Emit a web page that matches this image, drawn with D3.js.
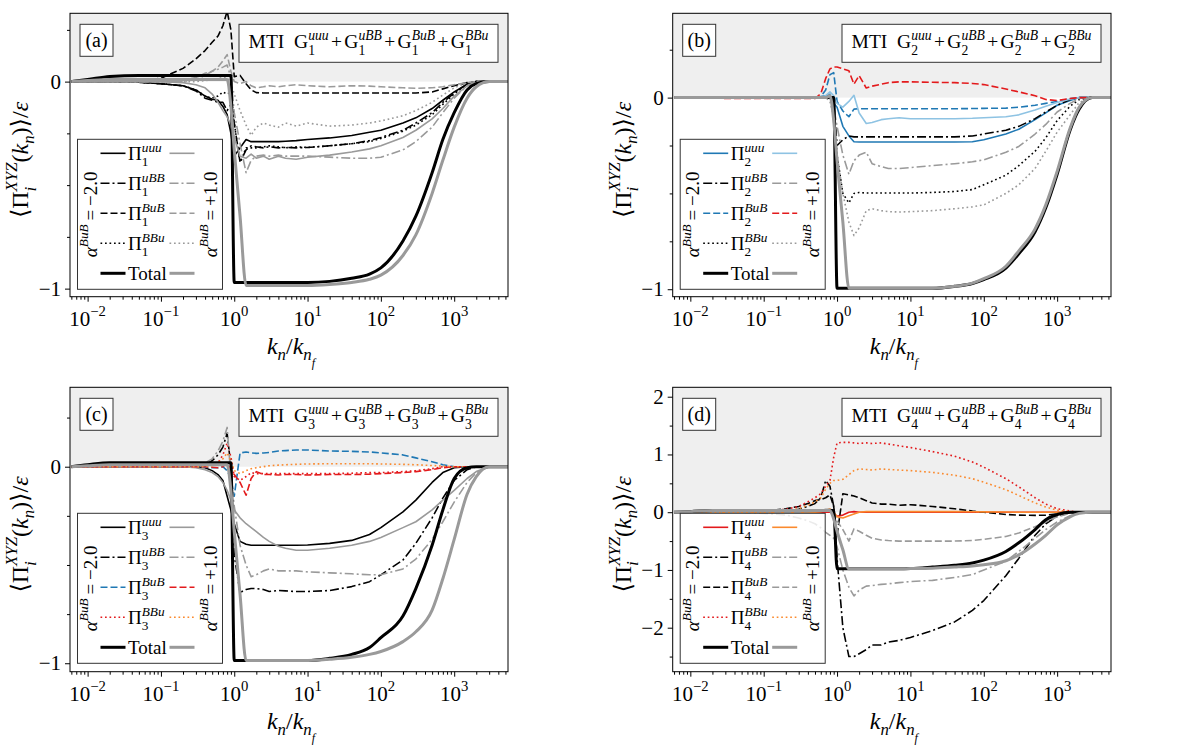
<!DOCTYPE html>
<html><head><meta charset="utf-8">
<script src="https://cdn.jsdelivr.net/npm/d3@7/dist/d3.min.js"></script>
<style>body{margin:0;background:#fff}</style>
</head><body>
<svg id="c" width="1199" height="746" xmlns="http://www.w3.org/2000/svg" font-family="'Liberation Serif', 'DejaVu Serif', serif"></svg>
<script>
// shell wavenumbers k_n / k_nf
const kn = [0.006,0.01,0.02,0.05,0.1, 0.2,0.3,0.4,0.5,0.6, 0.7,0.8,0.9,1.0,1.2, 1.45,1.7,2,2.5,3, 4,5,7,10,20, 40,70,100,200,300, 500,700,1000,1500,2000, 3000,5500];

// ---- panel (a) ----
const a_uuu_m = [0,0,0,-0.003,-0.01, -0.02,-0.04,-0.07,-0.085,-0.09, -0.12,-0.16,-0.25,-0.36,-0.32, -0.28,-0.29,-0.29,-0.29,-0.29, -0.29,-0.288,-0.285,-0.28,-0.272, -0.26,-0.245,-0.235,-0.2,-0.175, -0.13,-0.09,-0.05,-0.012,0, 0,0];
const a_uBB_m = [0,0,0,-0.003,-0.01, -0.02,-0.045,-0.08,-0.09,-0.1, -0.1,-0.14,-0.11,-0.2,-0.39, -0.33,-0.31,-0.315,-0.32,-0.315, -0.32,-0.318,-0.32,-0.318,-0.31, -0.3,-0.285,-0.27,-0.235,-0.2, -0.15,-0.1,-0.055,-0.012,0, 0,0];
const a_BuB_m = [0,0,0,0.003,0.016, 0.064,0.11,0.15,0.19,0.22, 0.27,0.34,0.25,0.024,0.03, -0.01,-0.04,-0.053,-0.055,-0.055, -0.055,-0.055,-0.055,-0.055,-0.055, -0.055,-0.055,-0.055,-0.055,-0.055, -0.05,-0.035,-0.02,-0.005,0, 0,0];
const a_BBu_m = [0,0,0,-0.003,-0.01, -0.02,-0.04,-0.07,-0.08,-0.07, -0.05,-0.06,-0.05,-0.2,-0.39, -0.32,-0.32,-0.32,-0.315,-0.31, -0.315,-0.32,-0.315,-0.318,-0.31, -0.3,-0.29,-0.275,-0.24,-0.21, -0.16,-0.11,-0.06,-0.012,0, 0,0];
const a_tot_m = [0,0.01,0.025,0.03,0.03, 0.03,0.03,0.03,0.03,0.03, 0.03,0.03,0.03,-0.97,-0.97, -0.97,-0.97,-0.97,-0.97,-0.97, -0.97,-0.97,-0.97,-0.97,-0.965, -0.95,-0.93,-0.9,-0.77,-0.65, -0.44,-0.28,-0.15,-0.04,-0.01, 0,0];
const a_uuu_p = [0,0,0,0,0, -0.005,-0.015,-0.03,-0.06,-0.1, -0.14,-0.17,-0.21,-0.27,-0.36, -0.37,-0.35,-0.37,-0.36,-0.375, -0.36,-0.37,-0.375,-0.365,-0.355, -0.34,-0.325,-0.31,-0.27,-0.235, -0.18,-0.13,-0.07,-0.02,-0.005, 0,0];
const a_uBB_p = [0,0,0,0,0, 0,0.01,0.03,0.05,0.06, 0.07,0.08,0.02,-0.15,-0.3, -0.44,-0.38,-0.36,-0.355,-0.36, -0.355,-0.36,-0.36,-0.36,-0.365, -0.37,-0.37,-0.365,-0.33,-0.29, -0.22,-0.15,-0.08,-0.02,0, 0,0];
const a_BuB_p = [0,0,0,0,0, 0.005,0.02,0.04,0.05,0.07, 0.1,0.13,0.05,0,-0.01, 0,-0.02,-0.03,-0.025,-0.02, -0.025,-0.02,-0.015,-0.02,-0.025, -0.02,-0.022,-0.025,-0.03,-0.032, -0.03,-0.025,-0.015,-0.005,0, 0,0];
const a_BBu_p = [0,0,0,0,0, 0,0,0.005,0.01,0.015, 0.02,0.02,-0.01,-0.06,-0.14, -0.21,-0.26,-0.22,-0.2,-0.21, -0.22,-0.2,-0.215,-0.2,-0.215, -0.21,-0.2,-0.19,-0.165,-0.14, -0.1,-0.065,-0.03,-0.005,0, 0,0];
const a_tot_p = [0,0.005,0.01,0.01,0.01, 0.01,0.01,0.01,0.01,0.01, 0.01,0.01,-0.12,-0.33,-0.65, -0.985,-0.985,-0.985,-0.985,-0.985, -0.985,-0.985,-0.985,-0.985,-0.98, -0.97,-0.955,-0.935,-0.84,-0.74, -0.54,-0.38,-0.22,-0.08,-0.025, 0,0];

// ---- panel (b) ----
const b_uuu_m = [0,0,0,0,0, 0,0,0,0,0.005, 0.01,0.015,-0.03,-0.05,-0.15, -0.2,-0.23,-0.232,-0.232,-0.232, -0.232,-0.232,-0.232,-0.232,-0.232, -0.232,-0.23,-0.22,-0.19,-0.165, -0.115,-0.08,-0.04,-0.015,0, 0,0];
const b_uBB_m = [0,0,0,0,0, 0,0,0,0,0, 0,0,-0.02,-0.25,-0.22, -0.2,-0.205,-0.205,-0.205,-0.205, -0.205,-0.205,-0.205,-0.205,-0.205, -0.205,-0.2,-0.19,-0.17,-0.15, -0.11,-0.075,-0.04,-0.01,0, 0,0];
const b_BuB_m = [0,0,0,0,0, 0,0,0,0,0.005, 0.04,0.12,0.13,-0.02,-0.07, -0.1,-0.06,-0.058,-0.058,-0.058, -0.058,-0.058,-0.058,-0.058,-0.058, -0.058,-0.057,-0.056,-0.055,-0.05, -0.04,-0.03,-0.02,-0.005,0, 0,0];
const b_BBu_m = [0,0,0,0,0, 0,0,0,0,0, 0,0,-0.05,-0.3,-0.5, -0.55,-0.5,-0.495,-0.498,-0.498, -0.498,-0.498,-0.498,-0.498,-0.495, -0.49,-0.48,-0.455,-0.405,-0.355, -0.28,-0.21,-0.12,-0.045,-0.01, 0,0];
const b_tot_m = [0,0,0,0,0, 0,0,0,0,0, 0,0,0,-0.995,-0.995, -0.995,-0.995,-0.995,-0.995,-0.995, -0.995,-0.995,-0.995,-0.995,-0.995, -0.985,-0.97,-0.95,-0.89,-0.815, -0.7,-0.575,-0.4,-0.17,-0.06, 0,0];
const b_uuu_p = [0,0,0,0,0, 0,0,0,0,0, 0.01,0.03,0.01,-0.03,-0.05, -0.02,0.012,-0.08,-0.135,-0.13, -0.115,-0.11,-0.105,-0.11,-0.11, -0.11,-0.108,-0.105,-0.1,-0.09, -0.065,-0.045,-0.025,-0.008,0, 0,0];
const b_uBB_p = [0,0,0,0,0, 0,0,0,0,0, 0,0,-0.05,-0.15,-0.3, -0.4,-0.33,-0.3,-0.285,-0.345, -0.36,-0.37,-0.37,-0.365,-0.355, -0.345,-0.335,-0.325,-0.285,-0.255, -0.19,-0.14,-0.075,-0.03,-0.005, 0,0];
const b_BuB_p = [0,0,-0.003,-0.005,-0.005, -0.005,-0.005,-0.005,-0.005,0.02, 0.1,0.15,0.16,0.16,0.15, 0.14,0.07,0.115,0.05,0.06, 0.07,0.078,0.082,0.082,0.08, 0.078,0.074,0.068,0.045,0.03, 0.01,-0.01,-0.015,-0.005,0, 0,0];
const b_BBu_p = [0,0,0,0,0, 0,0,0,0,0, 0,-0.02,-0.1,-0.3,-0.5, -0.65,-0.72,-0.68,-0.59,-0.58, -0.59,-0.595,-0.597,-0.595,-0.59, -0.58,-0.57,-0.56,-0.5,-0.455, -0.37,-0.28,-0.18,-0.09,-0.025, 0,0];
const b_tot_p = [0,0,0,0,0, 0,0,0,0,0, 0,0.01,-0.12,-0.33,-0.65, -0.995,-0.995,-0.995,-0.995,-0.995, -0.995,-0.995,-0.995,-0.995,-0.995, -0.985,-0.968,-0.945,-0.88,-0.8, -0.685,-0.56,-0.385,-0.16,-0.05, 0,0];

// ---- panel (c) ----
const c_uuu_m = [0,0,0,0,0, 0,0,-0.005,-0.02,-0.04, -0.07,-0.15,-0.22,-0.29,-0.38, -0.395,-0.4,-0.4,-0.4,-0.4, -0.4,-0.4,-0.4,-0.398,-0.39, -0.375,-0.345,-0.31,-0.23,-0.17, -0.08,-0.03,-0.005,0,0, 0,0];
const c_uBB_m = [0,0,0,0,0, 0,0.005,0.01,0.03,0.06, 0.1,0.17,0,-0.45,-0.64, -0.625,-0.62,-0.62,-0.625,-0.635, -0.63,-0.632,-0.635,-0.635,-0.63, -0.61,-0.585,-0.55,-0.475,-0.39, -0.26,-0.16,-0.07,-0.015,0, 0,0];
const c_BuB_m = [0,0,0,0,0, 0,0,-0.003,-0.005,-0.005, 0,-0.02,-0.06,-0.15,0.07, 0.075,0.07,0.068,0.07,0.072, 0.08,0.082,0.085,0.085,0.08, 0.078,0.075,0.07,0.06,0.045, 0.025,0.01,0,-0.003,0, 0,0];
const c_BBu_m = [0,0,0,0,0, 0,0,0.005,0.01,0.02, 0.06,0.12,0.05,-0.05,-0.07, -0.05,-0.03,-0.035,-0.035,-0.035, -0.035,-0.035,-0.035,-0.035,-0.035, -0.033,-0.03,-0.03,-0.025,-0.02, -0.01,0,0,0,0, 0,0];
const c_tot_m = [0,0.01,0.02,0.02,0.02, 0.02,0.02,0.02,0.02,0.02, 0.02,0.02,0.02,-0.986,-0.986, -0.986,-0.986,-0.986,-0.986,-0.986, -0.986,-0.986,-0.986,-0.986,-0.975, -0.955,-0.92,-0.87,-0.76,-0.62, -0.4,-0.22,-0.06,-0.005,0, 0,0];
const c_uuu_p = [0,0,0,0,0, 0,-0.005,-0.015,-0.03,-0.05, -0.08,-0.12,-0.17,-0.22,-0.26, -0.29,-0.31,-0.33,-0.36,-0.38, -0.405,-0.415,-0.425,-0.425,-0.415, -0.4,-0.38,-0.36,-0.31,-0.28, -0.22,-0.17,-0.12,-0.06,-0.025, 0,0];
const c_uBB_p = [0,0,0,0,0, 0,0.01,0.02,0.04,0.08, 0.13,0.2,-0.05,-0.2,-0.4, -0.5,-0.56,-0.55,-0.53,-0.52, -0.53,-0.53,-0.53,-0.535,-0.54, -0.545,-0.55,-0.55,-0.52,-0.47, -0.37,-0.28,-0.18,-0.08,-0.03, 0,0];
const c_BuB_p = [0,0,0,0,0, 0,0,0,-0.003,-0.005, 0,0.02,-0.02,-0.04,-0.08, -0.145,-0.06,-0.025,-0.04,-0.04, -0.042,-0.04,-0.04,-0.042,-0.04, -0.04,-0.038,-0.035,-0.03,-0.025, -0.015,-0.005,0,0,0, 0,0];
const c_BBu_p = [0,0,0,0,0, 0,0,0,0.005,0.02, 0.04,0.07,0.03,-0.02,-0.035, -0.02,-0.01,-0.005,0,0.005, 0.008,0.01,0.012,0.014,0.015, 0.015,0.015,0.014,0.012,0.01, 0.006,0.003,0,0,0, 0,0];
const c_tot_p = [0,0.005,0.01,0.01,0.01, 0.01,0.01,0.01,0.01,0.01, 0.01,0.01,-0.12,-0.33,-0.65, -0.986,-0.986,-0.986,-0.986,-0.986, -0.986,-0.986,-0.986,-0.986,-0.98, -0.97,-0.955,-0.94,-0.89,-0.84, -0.73,-0.57,-0.37,-0.14,-0.05, 0,0];

// ---- panel (d) ----
const d_uuu_m = [0,0,0,0,0, 0,0,0,0,0, 0,0,-0.02,-0.07,-0.05, 0,0.01,0,0,0, 0,0,0,0,0, 0,0,0,0,0, 0,0,0,0,0, 0,0];
const d_uBB_m = [0,0,0,0,0.01, 0.02,0.05,0.1,0.15,0.25, 0.55,0.45,0.1,-0.8,-2.0, -2.5,-2.5,-2.45,-2.38,-2.3, -2.3,-2.25,-2.22,-2.17,-2.05, -1.9,-1.7,-1.53,-1.1,-0.8, -0.4,-0.2,-0.07,-0.01,0, 0,0];
const d_BuB_m = [0,0,0,0,0.02, 0.06,0.1,0.15,0.2,0.22, 0.25,0.3,0.1,-0.4,0.32, 0.3,0.28,0.25,0.2,0.16, 0.14,0.14,0.12,0.13,0.1, 0.06,0.02,0,-0.04,-0.05, -0.055,-0.05,-0.03,-0.01,0, 0,0];
const d_BBu_m = [0,0,0,0,0.02, 0.05,0.1,0.18,0.25,0.32, 0.45,0.55,0.95,1.2,1.21, 1.21,1.2,1.19,1.2,1.19, 1.2,1.18,1.15,1.12,1.05, 0.97,0.87,0.78,0.58,0.44, 0.25,0.14,0.06,0.02,0, 0,0];
const d_tot_m = [0,0.01,0.03,0.03,0.03, 0.03,0.03,0.03,0.03,0.03, 0.03,0.03,0.03,-0.98,-0.98, -0.98,-0.98,-0.98,-0.98,-0.98, -0.98,-0.98,-0.98,-0.975,-0.95, -0.92,-0.88,-0.83,-0.68,-0.53, -0.3,-0.13,-0.04,0,0, 0,0];
const d_uuu_p = [0,0,0,0,0, 0,0,0,0,0.01, 0.03,0.06,0,-0.08,-0.1, -0.06,-0.03,0,0.01,0.01, 0.01,0.01,0.01,0.01,0.01, 0.01,0.008,0.005,0.003,0, 0,0,0,0,0, 0,0];
const d_uBB_p = [0,0,0,0,-0.02, -0.05,-0.1,-0.15,-0.2,-0.27, -0.35,-0.4,-0.45,-0.6,-1.0, -1.3,-1.45,-1.35,-1.28,-1.27, -1.25,-1.24,-1.22,-1.2,-1.18, -1.13,-1.08,-1.0,-0.85,-0.68, -0.45,-0.3,-0.17,-0.06,-0.02, 0,0];
const d_BuB_p = [0,0,0,0,0, 0,0,0.01,0.02,0.03, 0.05,0.05,0,-0.15,-0.3, -0.5,-0.29,-0.33,-0.4,-0.45, -0.48,-0.49,-0.5,-0.5,-0.5, -0.5,-0.49,-0.47,-0.42,-0.36, -0.25,-0.17,-0.08,-0.02,0, 0,0];
const d_BBu_p = [0,0,0,0,0, 0.02,0.06,0.12,0.18,0.25, 0.4,0.5,0.55,0.55,0.57, 0.65,0.72,0.75,0.74,0.73, 0.75,0.74,0.73,0.72,0.69, 0.64,0.58,0.52,0.39,0.29, 0.16,0.09,0.035,0.01,0, 0,0];
const d_tot_p = [0,0.01,0.03,0.03,0.03, 0.03,0.03,0.03,0.03,0.03, 0.03,0.03,-0.12,-0.33,-0.65, -0.98,-0.98,-0.98,-0.98,-0.98, -0.98,-0.98,-0.98,-0.975,-0.97, -0.95,-0.93,-0.91,-0.84,-0.74, -0.55,-0.4,-0.22,-0.08,-0.02, 0,0];

// tick labels / texts
const xTickVals = [1e-2,1e-1,1,1e1,1e2,1e3];
const xTickExp = ["\u22122","\u22121","0","1","2","3"];
const panelLabels = ["(a)","(b)","(c)","(d)"];
const panelIdx = ["1","2","3","4"];
const termNames = ["uuu","uBB","BuB","BBu"];
const alphaLabels = ["\u22122.0","+1.0"];

// styles
const FONT = "'Liberation Serif', 'DejaVu Serif', serif";
const BLK='#000', GRY='#9a9a9a', BLU='#1f78b4', LBLU='#8ec3e3', RED='#e31a1c', ORG='#fb8a2e';
const SOLID=null, DASH='7,3', DDOT='9,3,2,3', DOT='1.7,2.8';
const FS_TICK=21, FS_AXLAB=24, FS_LEG=19, FS_ALPHA=19, FS_TITLE=19.5, FS_PANEL=20;

const panels = [
  {L:70, R:508, T:13.3, B:296.7, ydom:[-1.039,0.33], yMajor:[0,-1], yMinor:[0.25,-0.25,-0.5,-0.75],
   m:[[a_uuu_m,BLK,SOLID],[a_uBB_m,BLK,DDOT],[a_BuB_m,BLK,DASH],[a_BBu_m,BLK,DOT]],
   p:[[a_uuu_p,GRY,SOLID],[a_uBB_p,GRY,DDOT],[a_BuB_p,GRY,DASH],[a_BBu_p,GRY,DOT]], tm:a_tot_m, tp:a_tot_p},
  {L:672.7, R:1111, T:13.3, B:296.7, ydom:[-1.039,0.44], yMajor:[0,-1], yMinor:[0.25,-0.25,-0.5,-0.75],
   m:[[b_uuu_m,BLU,SOLID],[b_uBB_m,BLK,DDOT],[b_BuB_m,BLU,DASH],[b_BBu_m,BLK,DOT]],
   p:[[b_uuu_p,LBLU,SOLID],[b_uBB_p,GRY,DDOT],[b_BuB_p,RED,DASH],[b_BBu_p,GRY,DOT]], tm:b_tot_m, tp:b_tot_p},
  {L:70, R:508, T:387.3, B:671.7, ydom:[-1.043,0.404], yMajor:[0,-1], yMinor:[0.25,-0.25,-0.5,-0.75],
   m:[[c_uuu_m,BLK,SOLID],[c_uBB_m,BLK,DDOT],[c_BuB_m,BLU,DASH],[c_BBu_m,RED,DOT]],
   p:[[c_uuu_p,GRY,SOLID],[c_uBB_p,GRY,DDOT],[c_BuB_p,RED,DASH],[c_BBu_p,ORG,DOT]], tm:c_tot_m, tp:c_tot_p},
  {L:672.7, R:1111, T:387.3, B:671.7, ydom:[-2.762,2.163], yMajor:[2,1,0,-1,-2], yMinor:[1.5,0.5,-0.5,-1.5,-2.5],
   m:[[d_uuu_m,RED,SOLID],[d_uBB_m,BLK,DDOT],[d_BuB_m,BLK,DASH],[d_BBu_m,RED,DOT]],
   p:[[d_uuu_p,ORG,SOLID],[d_uBB_p,GRY,DDOT],[d_BuB_p,GRY,DASH],[d_BBu_p,ORG,DOT]], tm:d_tot_m, tp:d_tot_p}
];

const svg = d3.select('#c');

function txt(parent) { return parent.append('text').attr('font-family', FONT).attr('fill', '#000'); }

function mathText(parent, pieces, size, o) {
  const g = parent.append('g');
  const inner = g.append('g');
  let x = 0;
  function put(p, x0) {
    const t = txt(inner).attr('x', x0).attr('y', (p.dy||0)*size)
      .attr('font-size', (p.s||1)*size).attr('font-style', p.it ? 'italic' : 'normal').text(p.t);
    return t.node().getComputedTextLength();
  }
  pieces.forEach(p => {
    if (p.gap !== undefined) { x += p.gap*size; return; }
    if (p.stack) { let w = 0; p.stack.forEach(q => { w = Math.max(w, put(q, x)); }); x += w; return; }
    x += put(p, x);
  });
  const off = o.anchor === 'middle' ? -x/2 : (o.anchor === 'end' ? -x : 0);
  inner.attr('transform', `translate(${off},0)`);
  g.attr('transform', `translate(${o.x},${o.y})` + (o.rotate ? ` rotate(${o.rotate})` : ''));
  return x;
}
const script = (sup, sub, supIt) => ({stack:[{t:sup, it:supIt, s:0.7, dy:-0.45},{t:sub, s:0.7, dy:0.32}]});

const xDom = [0.00575, 5420];
const xMinor = [];
for (let e = -3; e <= 3; e++) for (let m = 2; m <= 9; m++) { const v = m*Math.pow(10,e); if (v > xDom[0] && v < xDom[1]) xMinor.push(v); }

panels.forEach((P, pi) => {
  const x = d3.scaleLog().domain(xDom).range([P.L, P.R]);
  const y = d3.scaleLinear().domain(P.ydom).range([P.B, P.T]);
  const g = svg.append('g');
  const cid = 'clip' + pi;
  g.append('clipPath').attr('id', cid).append('rect')
    .attr('x', P.L).attr('y', P.T).attr('width', P.R-P.L).attr('height', P.B-P.T);
  g.append('rect').attr('x', P.L).attr('y', P.T).attr('width', P.R-P.L).attr('height', y(0)-P.T).attr('fill', '#efefef');

  const line = d3.line().x((d,i) => x(kn[i])).y(d => y(d));
  const smooth = d3.line().x((d,i) => x(kn[i])).y(d => y(d)).curve(d3.curveMonotoneX);
  const cg = g.append('g').attr('clip-path', `url(#${cid})`);
  const all = [
    ...P.m.map(s => ({v:s[0], c:s[1], d:s[2], w:1.6, gen:line})),
    ...P.p.map(s => ({v:s[0], c:s[1], d:s[2], w:1.6, gen:line})),
    {v:P.tm, c:BLK, d:null, w:3, gen:smooth}, {v:P.tp, c:GRY, d:null, w:3, gen:smooth}
  ];
  all.forEach(s => cg.append('path').attr('d', s.gen(s.v)).attr('fill','none')
    .attr('stroke', s.c).attr('stroke-width', s.w).attr('stroke-dasharray', s.d).attr('stroke-linejoin','round'));

  // axes
  const ax = g.append('g').attr('transform', `translate(0,${P.B})`);
  ax.call(d3.axisBottom(x).tickValues(xTickVals).tickSize(5).tickFormat('')).call(a => a.select('.domain').remove());
  ax.append('g').call(d3.axisBottom(x).tickValues(xMinor).tickSize(3).tickFormat('')).call(a => a.select('.domain').remove());
  const ay = g.append('g').attr('transform', `translate(${P.L},0)`);
  ay.call(d3.axisLeft(y).tickValues(P.yMajor).tickSize(5).tickFormat('')).call(a => a.select('.domain').remove());
  ay.append('g').call(d3.axisLeft(y).tickValues(P.yMinor).tickSize(3).tickFormat('')).call(a => a.select('.domain').remove());
  g.selectAll('.tick line').attr('stroke','#000').attr('stroke-width',1);

  xTickVals.forEach((v,i) => mathText(g, [{t:'10'},{t:xTickExp[i], s:0.7, dy:-0.45}], FS_TICK, {x:x(v), y:P.B+29, anchor:'middle'}));
  P.yMajor.forEach(v => {
    const lab = v === 0 ? '0' : (v < 0 ? '\u2212' : '') + Math.abs(v);
    txt(g).attr('x', P.L-9).attr('y', y(v)+7).attr('text-anchor','end').attr('font-size',FS_TICK).text(lab);
  });

  // frame
  g.append('rect').attr('x', P.L).attr('y', P.T).attr('width', P.R-P.L).attr('height', P.B-P.T)
    .attr('fill','none').attr('stroke','#000').attr('stroke-width',1);

  // axis labels
  mathText(g, [{t:'k',it:1},{t:'n',it:1,s:0.7,dy:0.25},{t:'/'},{t:'k',it:1},{t:'n',it:1,s:0.7,dy:0.25},{t:'f',it:1,s:0.5,dy:0.55}], FS_AXLAB,
    {x:(P.L+P.R)/2+2, y:P.B+57, anchor:'middle'});
  mathText(g, [{t:'\u27E8'},{t:'\u03A0'},{stack:[{t:'XYZ',it:1,s:0.7,dy:-0.45},{t:'i',it:1,s:0.7,dy:0.32}]},{t:'('},{t:'k',it:1},{t:'n',it:1,s:0.7,dy:0.25},{t:')'},{t:'\u27E9'},{t:'/'},{t:'\u03B5',it:1}], FS_AXLAB,
    {x:P.L-42, y:(P.T+P.B)/2+5, anchor:'middle', rotate:-90});

  // panel label box
  const lb = {x:P.L+10, y:P.T+11, w:33, h:32};
  g.append('rect').attr('x',lb.x).attr('y',lb.y).attr('width',lb.w).attr('height',lb.h).attr('fill','#fff').attr('stroke','#333').attr('stroke-width',1);
  txt(g).attr('x', lb.x+lb.w/2).attr('y', lb.y+23).attr('text-anchor','middle').attr('font-size',FS_PANEL).text(panelLabels[pi]);

  // title box
  const tb = {x:P.R-269, y:P.T+11, w:259, h:38};
  g.append('rect').attr('x',tb.x).attr('y',tb.y).attr('width',tb.w).attr('height',tb.h).attr('fill','#fff').attr('stroke','#333').attr('stroke-width',1);
  const tp = [{t:'MTI'},{gap:0.5}];
  termNames.forEach((n,i) => {
    if (i > 0) { tp.push({gap:0.12},{t:'+'},{gap:0.12}); }
    tp.push({t:'G'}, script(n, panelIdx[pi], 1));
  });
  mathText(g, tp, FS_TITLE, {x:tb.x+tb.w/2, y:tb.y+24, anchor:'middle'});

  // legend
  const L = {x:P.L+7.5, y:P.T+126, w:145, h:150};
  g.append('rect').attr('x',L.x).attr('y',L.y).attr('width',L.w).attr('height',L.h)
    .attr('fill','#fff').attr('fill-opacity',0.8).attr('stroke','#333').attr('stroke-width',1);
  const rows = [];
  for (let i = 0; i < 4; i++) rows.push({m:P.m[i], p:P.p[i], lab:[{t:'\u03A0'}, script(termNames[i], panelIdx[pi], 1)], w:1.6});
  rows.push({m:[null,BLK,null], p:[null,GRY,null], lab:[{t:'Total'}], w:3});
  rows.forEach((r,i) => {
    const ry = L.y + 14 + 30*i;
    g.append('line').attr('x1',L.x+23).attr('x2',L.x+48).attr('y1',ry).attr('y2',ry)
      .attr('stroke',r.m[1]).attr('stroke-width',r.w).attr('stroke-dasharray',r.m[2]);
    g.append('line').attr('x1',L.x+92).attr('x2',L.x+117).attr('y1',ry).attr('y2',ry)
      .attr('stroke',r.p[1]).attr('stroke-width',r.w).attr('stroke-dasharray',r.p[2]);
    mathText(g, r.lab, FS_LEG, {x:L.x+50.5, y:ry+7, anchor:'start'});
  });
  [[L.x+19, alphaLabels[0]], [L.x+139, alphaLabels[1]]].forEach(([lx, val]) => {
    mathText(g, [{t:'\u03B1',it:1},{t:'BuB',it:1,s:0.7,dy:-0.45},{gap:0.2},{t:'='},{gap:0.2},{t:val}], FS_ALPHA,
      {x:lx, y:L.y+L.h/2, anchor:'middle', rotate:-90});
  });
});
</script>
</body></html>
